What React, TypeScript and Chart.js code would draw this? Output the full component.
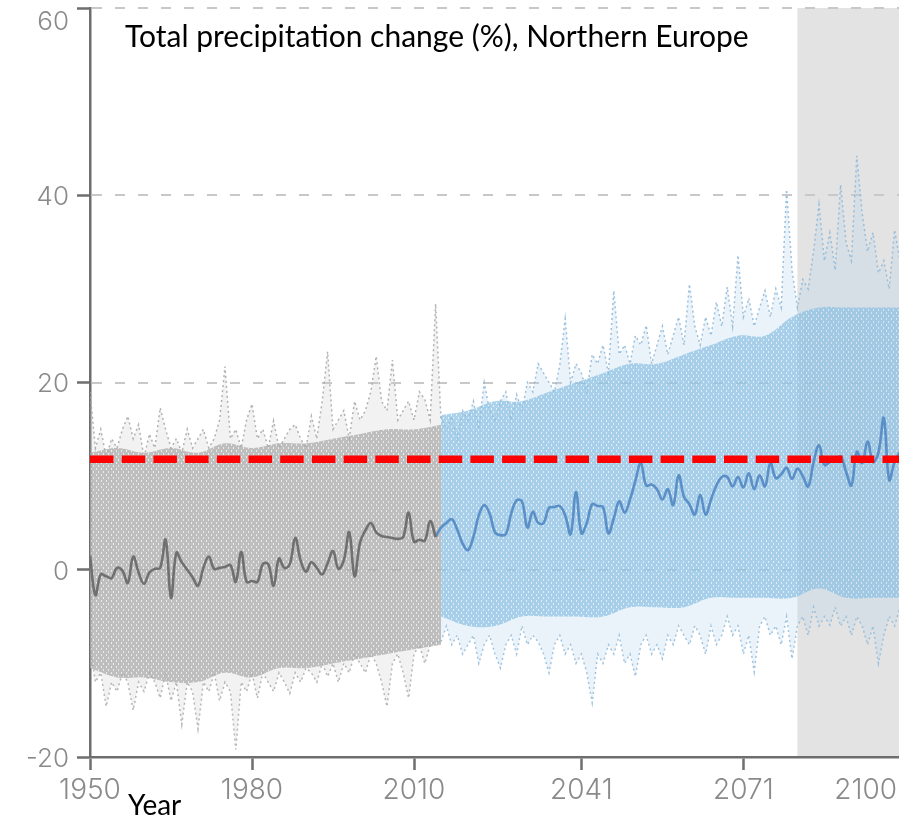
import React, { useEffect, useRef } from 'react';
import { Chart, registerables } from 'chart.js';

Chart.register(...registerables);

// ---- axis / annotation values ----
const X_TICKS = [1950, 1980, 2010, 2041, 2071, 2100];
const Y_TICKS = [-20, 0, 20, 40, 60];
const GRID_VALUES = [0, 20, 40, 60];
const THRESHOLD = 11.8;
const SHADE_FROM = 2081;
const SHADE_TO = 2100;

// ---- historical (1950-2014) multi-model mean ----
const HIST_START = 1950;
const histMean = [
  1.5, -2.7, -0.5, -0.7, -0.9, 0.2, -0.1, -1.4, 1.4, -0.3,
  -1.5, -0.3, 0.1, 0.2, 3.2, -3.0, 1.8, 0.8, 0.0, -0.8,
  -1.7, 0.2, 1.4, 0.1, 0.2, 0.3, 0.5, -1.3, 1.9, -1.3,
  -1.2, -1.3, 0.6, 0.6, -1.7, 1.2, 0.2, 0.6, 3.4, 1.0,
  -0.2, 0.8, 0.2, -0.5, 0.7, 2.0, 0.1, 1.0, 4.0, -0.7,
  2.9, 4.2, 5.0, 4.0, 3.6, 3.5, 3.4, 3.3, 3.5, 6.1,
  3.0, 3.2, 3.1, 5.2, 3.5,
];

// ---- projection (2014-2100) multi-model mean ----
const FUT_START = 2014;
const futMean = [
  3.5,
  4.5, 5.0, 5.4, 4.3, 2.8, 2.1, 3.5, 5.8, 6.9, 6.0,
  4.0, 3.7, 3.8, 6.0, 7.4, 7.3, 4.5, 6.2, 5.0, 5.0,
  6.6, 6.7, 6.8, 5.8, 3.8, 8.3, 3.9, 5.0, 7.0, 6.8,
  6.7, 3.9, 5.5, 7.3, 6.1, 7.5, 9.5, 11.4, 9.0, 9.1,
  8.6, 7.5, 8.6, 6.9, 10.1, 7.8, 7.0, 5.9, 8.0, 5.9,
  7.5, 9.0, 9.9, 9.9, 8.9, 9.9, 8.8, 10.3, 8.6, 10.1,
  8.9, 11.4, 9.8, 10.2, 10.9, 9.7, 10.8, 10.0, 8.9, 11.5,
  13.3, 11.2, 11.5, 11.8, 12.1, 10.5, 9.0, 12.6, 11.4, 13.7,
  11.5, 12.5, 16.2, 9.6, 11.5, 12.6,
];

// ---- historical ensemble spread (1950-2015) ----
const histHi = [
  19, 13, 15, 12, 14, 13, 15, 16.4, 14, 15.5,
  12, 14.5, 13, 17.3, 15, 13, 14, 12.5, 15, 13,
  14, 15, 13, 14, 16, 21.7, 14, 15, 13, 16,
  17.7, 14, 15, 13, 15.9, 13, 14, 15, 15.5, 14,
  13, 16.4, 14, 18, 23.3, 15, 16, 17, 14, 18,
  16, 17, 19, 22.8, 18, 17, 22.4, 16, 17, 18,
  16, 19, 18.2, 16, 28.4, 16,
];
const histLo = [
  -8, -12, -11, -14.6, -12, -13, -11, -12, -15, -12,
  -13, -11, -12, -13.7, -11, -14, -12, -16.5, -12, -13,
  -17, -12, -13, -11, -14, -12, -13, -19.2, -12, -13,
  -11, -13.7, -11, -12, -13, -11, -12, -13.2, -11, -12,
  -10.5, -11, -12, -10, -11.4, -10, -12, -10, -11, -9,
  -10, -11, -9, -10, -12, -14.6, -10, -9, -11, -13.7,
  -9, -8, -10, -8, -7.7, -7.7,
];
const histBandYears = [1950, 1955, 1960, 1965, 1970, 1975, 1980, 1985, 1990, 1995, 2000, 2005, 2010, 2015];
const histBandHi = [12.5, 13, 12.5, 13, 12.5, 13.5, 13, 13.5, 13.5, 14, 14.5, 15, 15, 15.5];
const histBandLo = [-10.5, -11.5, -11.5, -12, -12, -11, -11.5, -10.5, -10.5, -10, -9.5, -9, -8.5, -8];

// ---- projection ensemble spread (2015-2100) ----
const FUT_ENS_START = 2015;
const futHi = [
  16.4, 15, 16.4, 14, 17, 16, 18, 15, 20, 17,
  16, 18, 19, 16, 18.7, 17, 20, 19, 22, 21,
  20, 19, 21.9, 26.8, 20, 22, 21, 19, 23, 22,
  24, 21, 29.8, 23, 24, 22, 25, 24, 26.1, 22,
  24, 26, 23, 25, 27, 24, 30.5, 26, 24, 27,
  25, 28.6, 26, 30.2, 26, 33.6, 27, 29, 26, 28,
  29.8, 27, 30, 28, 40.6, 32, 28, 31, 30, 34,
  39, 33, 36, 32, 41.1, 35, 33, 44.2, 38, 34,
  36, 31.7, 33, 30, 36.3, 33,
];
const futLo = [
  -7.7, -6, -8, -7, -9, -8, -7, -10, -8, -7,
  -9, -10.5, -8, -7, -9, -6, -8, -7, -7.7, -9,
  -11, -8, -7, -9, -8, -10, -9, -11, -14.2, -9,
  -10, -8, -9, -7, -10, -9, -11.4, -8, -7, -9,
  -8, -9.5, -7, -8, -6, -7, -8, -6, -7, -9,
  -6, -8, -7, -5, -7, -6, -9, -7, -10.9, -6,
  -5, -7, -6, -8, -5, -9.5, -6, -5, -7, -4,
  -6, -5, -5.9, -4, -6, -5, -7, -5, -6, -8,
  -6, -10, -7, -5, -6, -4,
];
const futBandYears = [2015, 2020, 2025, 2030, 2035, 2040, 2045, 2050, 2055, 2060, 2065, 2070, 2075, 2080, 2085, 2090, 2095, 2100];
const futBandHi = [16.5, 17, 18, 18, 19, 20, 21, 22, 22, 23, 24, 25, 25, 27, 28, 28, 28, 28];
const futBandLo = [-5, -6, -6, -5, -5, -5, -5, -4, -4, -4, -3, -3, -3, -3, -2, -3, -3, -3];

const series = (start: number, values: number[]) => values.map((y, i) => ({ x: start + i, y }));
const paired = (years: number[], values: number[]) => values.map((y, i) => ({ x: years[i], y }));

const AXIS_COLOR = '#6e6e6e';
const LABEL_COLOR = '#8a8a8a';
const LABEL_FONT = 'Inter, Roboto, "DejaVu Sans", sans-serif';

function speckle(base: string, dot: string) {
  const c = document.createElement('canvas');
  c.width = 5;
  c.height = 6;
  const g = c.getContext('2d')!;
  g.fillStyle = base;
  g.fillRect(0, 0, 5, 6);
  g.clearRect(1, 0, 1, 2);
  g.clearRect(3, 3, 1, 2);
  g.fillStyle = dot;
  g.fillRect(1, 0, 1, 2);
  g.fillRect(3, 3, 1, 2);
  return g.createPattern(c, 'repeat') as CanvasPattern;
}

const decorPlugin = {
  id: 'decor',
  beforeDraw(chart: any) {
    const { ctx, chartArea, scales } = chart;
    const x0 = scales.x.getPixelForValue(SHADE_FROM);
    const x1 = scales.x.getPixelForValue(SHADE_TO);
    ctx.save();
    ctx.fillStyle = '#e3e3e3';
    ctx.fillRect(x0, chartArea.top, x1 - x0, chartArea.bottom - chartArea.top);
    ctx.restore();
  },
  beforeDatasetsDraw(chart: any) {
    const { ctx, chartArea, scales } = chart;
    ctx.save();
    ctx.strokeStyle = '#c8c8c8';
    ctx.lineWidth = 2;
    ctx.setLineDash([10, 13]);
    GRID_VALUES.forEach((v) => {
      const y = Math.round(scales.y.getPixelForValue(v));
      ctx.beginPath();
      ctx.moveTo(chartArea.left + 2, y);
      ctx.lineTo(chartArea.right, y);
      ctx.stroke();
    });
    ctx.restore();
  },
  afterDraw(chart: any) {
    const { ctx, chartArea, scales } = chart;
    ctx.save();
    ctx.fillStyle = LABEL_COLOR;
    ctx.font = `300 26px ${LABEL_FONT}`;
    ctx.textAlign = 'right';
    ctx.textBaseline = 'middle';
    Y_TICKS.forEach((v) => {
      const y = Math.max(scales.y.getPixelForValue(v) + 2, 22);
      ctx.fillText(String(v), chartArea.left - 21, y);
    });
    ctx.font = `300 28px ${LABEL_FONT}`;
    ctx.textAlign = 'center';
    ctx.textBaseline = 'alphabetic';
    X_TICKS.forEach((v) => {
      const t = String(v);
      const w = ctx.measureText(t).width;
      const cx = Math.min(scales.x.getPixelForValue(v), 897 - w / 2);
      ctx.fillText(t, cx, 799);
    });
    ctx.restore();
  },
};

export default function App() {
  const ref = useRef<HTMLCanvasElement | null>(null);

  useEffect(() => {
    if (!ref.current) return;
    const dotted = { borderDash: [2, 3], borderWidth: 1.5, pointRadius: 0, tension: 0 };
    const area = { borderWidth: 0, pointRadius: 0, tension: 0.4 };
    const grayBand = speckle('rgba(170,170,170,0.72)', 'rgba(228,228,228,0.55)');
    const blueBand = speckle('rgba(140,192,226,0.72)', 'rgba(215,234,246,0.6)');
    const chart = new Chart(ref.current, {
      type: 'line',
      data: {
        datasets: [
          { label: 'hist max', data: series(HIST_START, histHi), borderColor: 'rgba(165,165,165,0.85)', backgroundColor: 'rgba(205,205,205,0.25)', fill: '+1', order: 10, ...dotted },
          { label: 'hist min', data: series(HIST_START, histLo), borderColor: 'rgba(165,165,165,0.85)', fill: false, order: 10, ...dotted },
          { label: 'hist band hi', data: paired(histBandYears, histBandHi), backgroundColor: grayBand, fill: '+1', order: 9, ...area },
          { label: 'hist band lo', data: paired(histBandYears, histBandLo), fill: false, order: 9, ...area },
          { label: 'proj max', data: series(FUT_ENS_START, futHi), borderColor: 'rgba(140,182,216,0.85)', backgroundColor: 'rgba(180,212,235,0.28)', fill: '+1', order: 10, ...dotted },
          { label: 'proj min', data: series(FUT_ENS_START, futLo), borderColor: 'rgba(140,182,216,0.85)', fill: false, order: 10, ...dotted },
          { label: 'proj band hi', data: paired(futBandYears, futBandHi), backgroundColor: blueBand, fill: '+1', order: 9, ...area },
          { label: 'proj band lo', data: paired(futBandYears, futBandLo), fill: false, order: 9, ...area },
          { label: 'historical mean', data: series(HIST_START, histMean), borderColor: '#707070', borderWidth: 2.6, pointRadius: 0, tension: 0.4, fill: false, order: 2 },
          { label: 'projection mean', data: series(FUT_START, futMean), borderColor: '#5b8fc7', borderWidth: 2.6, pointRadius: 0, tension: 0.4, fill: false, order: 2 },
          {
            label: 'threshold',
            data: [
              { x: X_TICKS[0], y: THRESHOLD },
              { x: X_TICKS[X_TICKS.length - 1], y: THRESHOLD },
            ],
            borderColor: '#ff0000',
            borderWidth: 7.5,
            borderDash: [23.5, 8.2],
            pointRadius: 0,
            fill: false,
            order: 1,
          },
        ],
      },
      options: {
        animation: false,
        responsive: true,
        maintainAspectRatio: false,
        layout: { padding: { top: 8, right: 2, left: 0, bottom: 0 }, autoPadding: false },
        plugins: { legend: { display: false }, tooltip: { enabled: false }, title: { display: false } },
        scales: {
          x: {
            type: 'linear',
            min: X_TICKS[0],
            max: X_TICKS[X_TICKS.length - 1],
            afterBuildTicks: (s: any) => {
              s.ticks = X_TICKS.map((value) => ({ value }));
            },
            afterFit: (s: any) => {
              s.height = 64;
            },
            ticks: { display: false },
            grid: { display: true, drawOnChartArea: false, drawTicks: true, tickLength: 13, tickColor: AXIS_COLOR, tickWidth: 2.5 },
            border: { display: true, color: AXIS_COLOR, width: 2.5 },
          },
          y: {
            type: 'linear',
            min: Y_TICKS[0],
            max: Y_TICKS[Y_TICKS.length - 1],
            afterBuildTicks: (s: any) => {
              s.ticks = Y_TICKS.map((value) => ({ value }));
            },
            afterFit: (s: any) => {
              s.width = 90;
            },
            ticks: { display: false },
            grid: { display: true, drawOnChartArea: false, drawTicks: true, tickLength: 13, tickColor: AXIS_COLOR, tickWidth: 2.5 },
            border: { display: true, color: AXIS_COLOR, width: 2.5 },
          },
        },
      },
      plugins: [decorPlugin],
    });
    return () => chart.destroy();
  }, []);

  return (
    <div style={{ position: 'fixed', left: 0, top: 0, width: 899, height: 821, overflow: 'hidden', background: '#fff' }}>
      <div style={{ position: 'absolute', left: 0, top: 0, width: 902, height: 821 }}>
        <canvas ref={ref} />
      </div>
      <div
        style={{
          position: 'absolute',
          left: 125,
          top: 20,
          fontFamily: 'Lato, "Open Sans", sans-serif',
          fontSize: 30,
          lineHeight: 1,
          color: '#000',
          whiteSpace: 'nowrap',
        }}
      >
        Total precipitation change (%), Northern Europe
      </div>
      <div
        style={{
          position: 'absolute',
          left: 128,
          top: 790,
          fontFamily: 'Lato, "Open Sans", sans-serif',
          fontSize: 28,
          lineHeight: 1,
          color: '#000',
          whiteSpace: 'nowrap',
        }}
      >
        Year
      </div>
    </div>
  );
}
